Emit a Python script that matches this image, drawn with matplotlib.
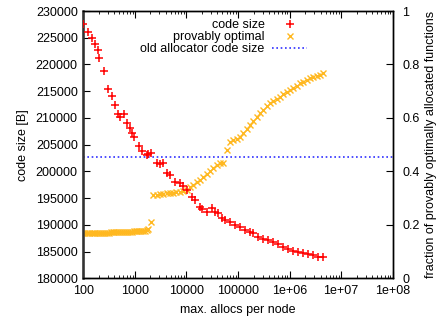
import matplotlib
matplotlib.use("Agg")
import matplotlib.pyplot as plt
from matplotlib.ticker import FixedLocator, LogLocator, NullFormatter
from matplotlib.lines import Line2D

plt.rcParams['font.family'] = ['Liberation Sans', 'DejaVu Sans']

# code size series (max allocs per node, bytes)
size_x = [100, 123, 146, 169, 190, 202, 255, 305, 360, 412, 471, 515, 616, 704, 804, 880, 962,
          1202, 1375, 1695, 1821, 2053, 2650, 3070, 3557, 4140, 4797, 5995, 7494, 8690, 10115,
          12640, 14650, 18310, 19770, 24710, 30880, 35790, 41500, 48300, 56000, 70000, 87500,
          109400, 136700, 171000, 198000, 247500, 309000, 386000, 483000, 604000, 755000,
          944000, 1180000, 1475000, 1845000, 2306000, 2883000, 3604000, 4505000]
size_y = [227512, 226072, 224893, 223827, 222705, 221264, 218720, 215465, 214100, 212443,
          210733, 210172, 210733, 209050, 208114, 207179, 206431, 204747, 203812, 203063,
          203250, 203381, 201511, 201324, 201624, 199640, 199322, 197956, 197769, 197264,
          196516, 195262, 194646, 193280, 192906, 192457, 193093, 192457, 192158, 191222,
          190904, 190586, 189969, 189651, 189034, 188716, 188416, 187668, 187350, 187163,
          186733, 186359, 185910, 185480, 185162, 184975, 184788, 184545, 184283, 184040,
          183928]

# provably optimal fraction series
opt_x = [100, 110, 120, 130, 145, 160, 170, 185, 200, 220, 240, 260, 290, 310, 340, 370, 400,
         440, 480, 520, 570, 620, 680, 740, 800, 870, 950, 1030, 1120, 1220, 1330, 1450, 1580,
         1700, 1821, 2053,
         2270, 2650, 3070, 3557, 4140, 4797, 5400, 6400, 7494, 8690, 10115, 11700, 13500, 15800,
         18310, 21200, 24710, 28700, 33300, 38700, 44900, 52000,
         60400, 70000, 81100, 94400, 109400, 126700, 147500, 171000, 198000, 230000, 266800,
         309000, 359700, 416900, 483000, 562300, 651600, 755000, 879000, 1019000, 1180000,
         1375000, 1592000, 1845000, 2148000, 2489000, 2883000, 3357000, 3890000, 4505000]
opt_y = [0.168, 0.168, 0.169, 0.168, 0.169, 0.169, 0.170, 0.169, 0.170, 0.170, 0.171, 0.170,
         0.171, 0.171, 0.172, 0.172, 0.172, 0.173, 0.173, 0.173, 0.174, 0.174, 0.174, 0.175,
         0.175, 0.175, 0.176, 0.176, 0.177, 0.177, 0.177, 0.178, 0.178, 0.179, 0.183, 0.212,
         0.312, 0.313, 0.314, 0.316, 0.318, 0.319, 0.320, 0.322, 0.324, 0.326, 0.329, 0.340,
         0.350, 0.360, 0.369, 0.380, 0.392, 0.403, 0.413, 0.424, 0.430, 0.433,
         0.480, 0.511, 0.517, 0.523, 0.530, 0.544, 0.559, 0.574, 0.588, 0.603, 0.617, 0.630,
         0.643, 0.655, 0.663, 0.671, 0.679, 0.688, 0.697, 0.704, 0.712, 0.721, 0.730, 0.736,
         0.742, 0.748, 0.753, 0.757, 0.761, 0.767]

old_size = 202600

x_ticks = [100, 1000, 10000, 100000, 1e6, 1e7, 1e8]
x_tick_labels = ["100", "1000", "10000", "100000", "1e+06", "1e+07", "1e+08"]
y_ticks = [180000, 185000, 190000, 195000, 200000, 205000, 210000, 215000, 220000, 225000, 230000]
y2_ticks = [0, 0.2, 0.4, 0.6, 0.8, 1]
y2_tick_labels = ["0", "0.2", "0.4", "0.6", "0.8", "1"]

RED = '#ff0000'
ORANGE = '#ffb820'
BLUE = '#3030ff'
FS = 9

fig = plt.figure(figsize=(4.38, 3.2), dpi=100)
ax = fig.add_axes([83.3 / 438, 1 - 278.3 / 320, (392.7 - 83.3) / 438, (278.3 - 11) / 320])
ax2 = ax.twinx()

ax.set_xscale('log')
ax.set_xlim(100, 1e8)
ax.set_ylim(180000, 230000)
ax2.set_ylim(0, 1)

ax.axhline(old_size, color=BLUE, lw=1.2, ls=(0, (1, 1.6)), zorder=2)
ax2.plot(opt_x, opt_y, ls='none', marker='x', ms=4.5, mew=1.0, color=ORANGE, zorder=3)
ax.plot(size_x, size_y, ls='none', marker='+', ms=5.5, mew=1.1, color=RED, zorder=4)
ax.set_zorder(ax2.get_zorder() + 1)
ax.patch.set_visible(False)

ax.xaxis.set_major_locator(FixedLocator(x_ticks))
ax.set_xticklabels(x_tick_labels)
ax.xaxis.set_minor_locator(LogLocator(base=10, subs=range(2, 10), numticks=20))
ax.xaxis.set_minor_formatter(NullFormatter())
ax.set_yticks(y_ticks)
ax.set_yticklabels([str(v) for v in y_ticks])
ax2.set_yticks(y2_ticks)
ax2.set_yticklabels(y2_tick_labels)

ax.tick_params(axis='x', which='major', direction='in', length=5, top=True, labelsize=FS, pad=5)
ax.tick_params(axis='x', which='minor', direction='in', length=2.5, top=True)
ax.tick_params(axis='y', which='major', direction='in', length=5, right=False, labelsize=FS, pad=4)
ax2.tick_params(axis='y', direction='in', length=5, labelsize=FS, pad=7)

for a in (ax, ax2):
    for s in a.spines.values():
        s.set_linewidth(1.0)
ax.spines['left'].set_linewidth(1.8)
ax.spines['left'].set_color('#333333')

ax.set_xlabel("max. allocs per node", fontsize=FS, labelpad=5)
ax.set_ylabel("code size [B]", fontsize=FS, labelpad=5)
ax2.set_ylabel("fraction of provably optimally allocated functions", fontsize=FS, labelpad=4)

handles = [
    Line2D([], [], ls='none', marker='+', ms=5.5, mew=1.1, color=RED),
    Line2D([], [], ls='none', marker='x', ms=4.5, mew=1.0, color=ORANGE),
    Line2D([], [], ls=(0, (1, 1.6)), lw=1.2, color=BLUE),
]
labels = ["code size", "provably optimal", "old allocator code size"]
ax.legend(handles, labels, loc='upper right', bbox_to_anchor=(307 / 438, 1 - 19 / 320),
          bbox_transform=fig.transFigure, frameon=False, markerfirst=False,
          fontsize=FS, handlelength=2.8, handletextpad=0.6, labelspacing=0.02,
          borderpad=0, borderaxespad=0)

fig.savefig("out.png", dpi=100)
